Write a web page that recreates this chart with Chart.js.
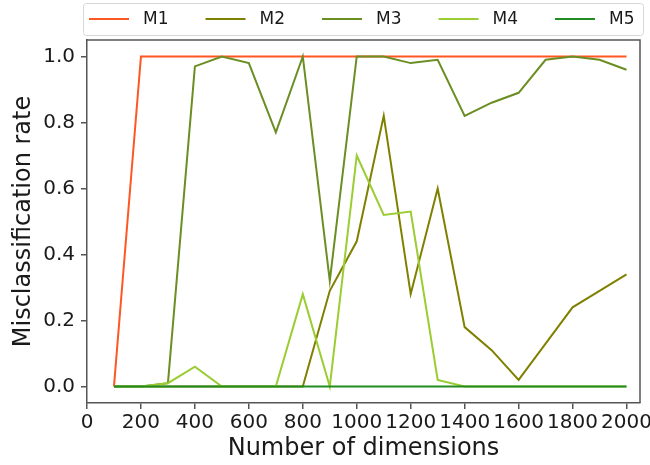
<!DOCTYPE html>
<html>
<head>
<meta charset="utf-8">
<script src="https://cdn.jsdelivr.net/npm/chart.js@4/dist/chart.umd.min.js"></script>
<style>
  html, body { margin: 0; padding: 0; background: #fff; }
  #wrap { width: 650px; height: 465px; }
</style>
</head>
<body>
<div id="wrap"><canvas id="chart"></canvas></div>
<script>
const dims = [100, 200, 300, 400, 500, 600, 700, 800, 900, 1000, 1100, 1200, 1300, 1400, 1500, 1600, 1700, 1800, 1900, 2000];
const m1 = [0, 1, 1, 1, 1, 1, 1, 1, 1, 1, 1, 1, 1, 1, 1, 1, 1, 1, 1, 1];
const m2 = [0, 0, 0, 0, 0, 0, 0, 0, 0.29, 0.44, 0.82, 0.28, 0.60, 0.18, 0.11, 0.02, 0.13, 0.24, 0.29, 0.34];
const m3 = [0, 0, 0.01, 0.97, 1.0, 0.98, 0.77, 1.0, 0.32, 1.0, 1.0, 0.98, 0.99, 0.82, 0.86, 0.89, 0.99, 1.0, 0.99, 0.96];
const m4 = [0, 0, 0.01, 0.06, 0, 0, 0, 0.28, 0, 0.70, 0.52, 0.53, 0.02, 0, 0, 0, 0, 0, 0, 0];
const m5 = [0, 0, 0, 0, 0, 0, 0, 0, 0, 0, 0, 0, 0, 0, 0, 0, 0, 0, 0, 0];
const names = ['M1', 'M2', 'M3', 'M4', 'M5'];
const colors = ['#ff5722', '#808000', '#6b8e23', '#9acd32', '#228b22'];
const xTicks = [0, 200, 400, 600, 800, 1000, 1200, 1400, 1600, 1800, 2000];
const yTicks = [0, 0.2, 0.4, 0.6, 0.8, 1.0];

const series = [m1, m2, m3, m4, m5];
const axisColor = '#555';
const textColor = '#1a1a1a';

// legend drawn on top like matplotlib's expanded legend, plus the top/right spines
const extras = {
    id: 'extras',
    afterDraw(chart) {
        const ctx = chart.ctx;
        const a = chart.chartArea;
        ctx.save();
        ctx.strokeStyle = axisColor;
        ctx.lineWidth = 1.5;
        ctx.beginPath();
        ctx.moveTo(a.left, a.top);
        ctx.lineTo(a.right, a.top);
        ctx.lineTo(a.right, a.bottom);
        ctx.stroke();

        const bx = a.left - 4, by = 3, bw = a.right - a.left + 7, bh = 32;
        ctx.fillStyle = 'rgba(255,255,255,0.8)';
        ctx.strokeStyle = '#d6d6d6';
        ctx.lineWidth = 1;
        ctx.beginPath();
        ctx.roundRect(bx + 0.5, by + 0.5, bw, bh, 3);
        ctx.fill();
        ctx.stroke();

        ctx.font = '17px "DejaVu Sans"';
        ctx.textBaseline = 'middle';
        ctx.fillStyle = textColor;
        const step = 116.5;
        chart.data.datasets.forEach((ds, i) => {
            const x = bx + 6 + i * step;
            const y = by + bh / 2;
            ctx.strokeStyle = ds.borderColor;
            ctx.lineWidth = 2;
            ctx.beginPath();
            ctx.moveTo(x, y);
            ctx.lineTo(x + 40, y);
            ctx.stroke();
            ctx.fillText(ds.label, x + 54, y + 1);
        });
        ctx.restore();
    }
};

const ctx = document.getElementById('chart').getContext('2d');
new Chart(ctx, {
    type: 'line',
    data: {
        datasets: names.map((name, i) => ({
            label: name,
            data: dims.map((d, j) => ({ x: d, y: series[i][j] })),
            borderColor: colors[i],
            backgroundColor: colors[i],
            borderWidth: 2,
            pointRadius: 0,
            tension: 0,
            fill: false,
            order: names.length - i
        }))
    },
    options: {
        responsive: true,
        maintainAspectRatio: false,
        animation: false,
        layout: { padding: { top: 40, right: 10, left: 0, bottom: 0 } },
        plugins: {
            legend: { display: false },
            tooltip: { enabled: false }
        },
        scales: {
            x: {
                type: 'linear',
                min: 0,
                max: 2050,
                afterBuildTicks: s => { s.ticks = xTicks.map(v => ({ value: v })); },
                afterFit: s => { s.height = 62; s.paddingLeft = 0; s.paddingRight = 0; },
                grid: { drawOnChartArea: false, drawTicks: true, tickLength: 6, color: axisColor, lineWidth: 1.5 },
                border: { display: true, color: axisColor, width: 1.5 },
                ticks: {
                    color: textColor,
                    padding: 2,
                    maxRotation: 0,
                    autoSkip: false,
                    font: { family: 'DejaVu Sans', size: 20 },
                    callback: v => String(v)
                },
                title: {
                    display: true,
                    text: 'Number of dimensions',
                    color: textColor,
                    font: { family: 'DejaVu Sans', size: 24 },
                    padding: { top: 0, bottom: 2 }
                }
            },
            y: {
                min: -0.05,
                max: 1.05,
                afterBuildTicks: s => { s.ticks = yTicks.map(v => ({ value: v })); },
                afterFit: s => { s.width = 87; s.paddingTop = 0; s.paddingBottom = 0; },
                grid: { drawOnChartArea: false, drawTicks: true, tickLength: 6, color: axisColor, lineWidth: 1.5 },
                border: { display: true, color: axisColor, width: 1.5 },
                ticks: {
                    color: textColor,
                    padding: 6,
                    autoSkip: false,
                    font: { family: 'DejaVu Sans', size: 20 },
                    callback: v => Number(v).toFixed(1)
                },
                title: {
                    display: true,
                    text: 'Misclassification rate',
                    color: textColor,
                    font: { family: 'DejaVu Sans', size: 24 },
                    padding: { top: 9, bottom: 0 }
                }
            }
        }
    },
    plugins: [extras]
});
</script>
</body>
</html>
